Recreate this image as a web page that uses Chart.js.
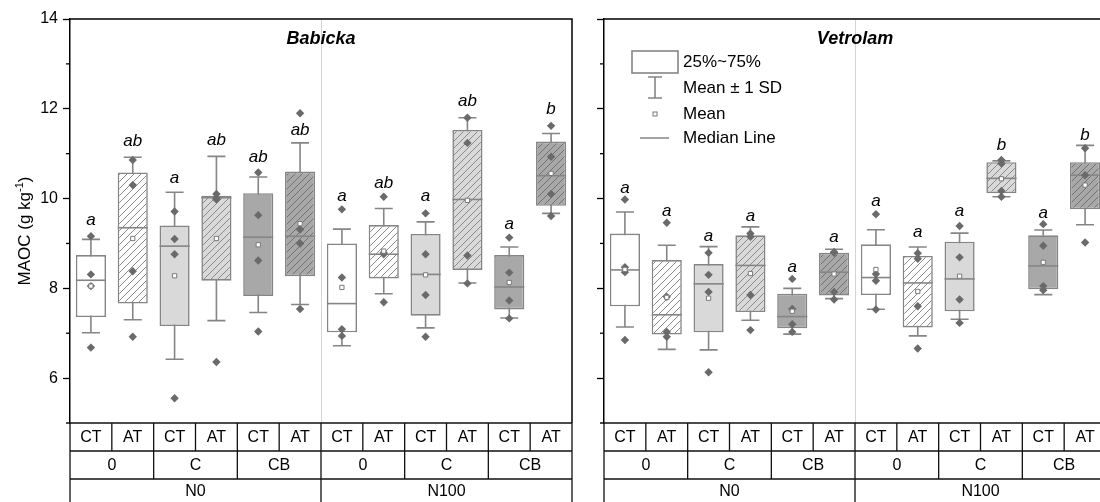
<!DOCTYPE html>
<html><head><meta charset="utf-8">
<script src="https://cdn.jsdelivr.net/npm/chart.js@4.4.1/dist/chart.umd.min.js"></script>
<style>
html,body{margin:0;padding:0;background:#fff;overflow:hidden;width:1100px;height:502px;}
#wrap{position:relative;width:1100px;height:502px;overflow:hidden;background:#fff;}
#c1{position:absolute;left:0;top:0;}
#c2{position:absolute;left:588px;top:0;}
</style></head><body>
<div id="wrap"><canvas id="c1" width="600" height="502"></canvas><canvas id="c2" width="530" height="502"></canvas></div>
<script>
// ---------- data ----------
const treatLabels = ['CT', 'AT'];
const amendLabels = ['0', 'C', 'CB'];
const nLabels = ['N0', 'N100'];
const panelTitles = ['Babicka', 'Vetrolam'];
const yTickValues = [6, 8, 10, 12, 14];
const yMinorValues = [7, 9, 11, 13];
const yRange = [5, 14];
const yAxisTitle = 'MAOC (g kg';
const yAxisTitleSup = '-1';
const legendLabels = ['25%~75%', 'Mean \u00B1 1 SD', 'Mean', 'Median Line'];

// Babicka
const babQ1   = [7.36, 7.66, 7.16, 8.17, 7.83, 8.27, 7.02, 8.22, 7.39, 8.41, 7.53, 9.84];
const babMed  = [8.18, 9.35, 8.94, 10.02, 9.14, 9.16, 7.66, 8.76, 8.31, 9.98, 8.03, 10.51];
const babQ3   = [8.74, 10.58, 9.40, 10.06, 10.12, 10.60, 9.00, 9.41, 9.21, 11.53, 8.74, 11.27];
const babMean = [8.05, 9.11, 8.28, 9.11, 8.97, 9.44, 8.02, 8.83, 8.30, 9.96, 8.13, 10.56];
const babSD   = [1.04, 1.81, 1.86, 1.83, 1.51, 1.80, 1.30, 0.95, 1.18, 1.84, 0.79, 0.89];
const babPts  = [[9.16, 8.31, 8.05, 6.68], [10.86, 10.30, 8.38, 6.92], [9.71, 9.10, 8.76, 5.55], [10.10, 10.00, 9.98, 6.36],
                 [10.58, 9.63, 8.62, 7.04], [11.90, 9.31, 9.00, 7.54], [9.76, 8.24, 7.09, 6.94], [10.04, 8.79, 8.76, 7.69],
                 [9.67, 8.76, 7.85, 6.92], [11.80, 11.24, 8.73, 8.11], [9.13, 8.35, 7.73, 7.33], [11.62, 10.93, 10.10, 9.61]];
const babLetters  = ['a', 'ab', 'a', 'ab', 'ab', 'ab', 'a', 'ab', 'a', 'ab', 'a', 'b'];
const babLetterAt = [9.52, 11.27, 10.46, 11.30, 10.92, 11.53, 10.04, 10.35, 10.04, 12.16, 9.43, 11.99];

// Vetrolam
const vetQ1   = [7.60, 6.97, 7.02, 7.47, 7.11, 7.84, 7.85, 7.13, 7.49, 10.12, 7.98, 9.76];
const vetMed  = [8.41, 7.41, 8.10, 8.51, 7.37, 8.36, 8.24, 8.12, 8.21, 10.45, 8.50, 10.52];
const vetQ3   = [9.22, 8.63, 8.54, 9.18, 7.88, 8.79, 8.98, 8.72, 9.04, 10.81, 9.18, 10.81];
const vetMean = [8.42, 7.80, 7.78, 8.33, 7.49, 8.32, 8.42, 7.93, 8.27, 10.44, 8.58, 10.30];
const vetSD   = [1.28, 1.16, 1.15, 1.04, 0.51, 0.55, 0.885, 0.99, 0.96, 0.40, 0.72, 0.885];
const vetPts  = [[9.98, 8.47, 8.36, 6.85], [9.46, 7.81, 7.03, 6.92], [8.79, 8.30, 7.92, 6.13], [9.22, 9.15, 7.85, 7.07],
                 [8.21, 7.54, 7.20, 7.03], [8.81, 8.79, 7.92, 7.75], [9.65, 8.32, 8.17, 7.53], [8.78, 8.66, 7.60, 6.66],
                 [9.39, 8.69, 7.75, 7.23], [10.86, 10.78, 10.17, 10.04], [9.43, 8.95, 8.05, 7.96], [11.12, 10.52, 9.02]];
const vetLetters  = ['a', 'a', 'a', 'a', 'a', 'a', 'a', 'a', 'a', 'b', 'a', 'b'];
const vetLetterAt = [10.23, 9.71, 9.16, 9.61, 8.48, 9.13, 9.93, 9.24, 9.71, 11.19, 9.68, 11.42];

// ---------- styles ----------
const FONT = '"Liberation Sans", Arial, Helvetica, sans-serif';
Chart.defaults.font.family = FONT;
const BOX_LINE = '#858585';
const DOT = '#6a6a6a';
const amendFill = { '0': '#ffffff', 'C': '#d9d9d9', 'CB': '#a8a8a8' };
const amendHatch = { '0': '#8a8a8a', 'C': '#8a8a8a', 'CB': '#727272' };

// category keys built from label arrays
const catKeys = [], catAmend = [], catTreat = [];
nLabels.forEach(n => amendLabels.forEach(a => treatLabels.forEach(t => {
  catKeys.push(n + '|' + a + '|' + t); catAmend.push(a); catTreat.push(t);
})));

function hatchPattern(ctx, base, line) {
  const s = 7, c = document.createElement('canvas');
  c.width = s; c.height = s;
  const g = c.getContext('2d');
  g.fillStyle = base; g.fillRect(0, 0, s, s);
  g.strokeStyle = line; g.lineWidth = 1;
  g.beginPath();
  g.moveTo(0, s); g.lineTo(s, 0);
  g.moveTo(-1, 1); g.lineTo(1, -1);
  g.moveTo(s - 1, s + 1); g.lineTo(s + 1, s - 1);
  g.stroke();
  return ctx.createPattern(c, 'repeat');
}

const panelPlugin = {
  id: 'panel',
  beforeDatasetsDraw(chart) {
    const p = chart.options.plugins.panel, ctx = chart.ctx, xs = chart.scales.x, ys = chart.scales.y, ca = chart.chartArea;
    ctx.save();
    // N0 / N100 divider
    const w = (xs.right - xs.left) / catKeys.length;
    const mid = xs.left + w * catKeys.length / 2;
    ctx.strokeStyle = '#d4d4d4'; ctx.lineWidth = 1;
    ctx.beginPath(); ctx.moveTo(Math.round(mid) + 0.5, ca.top); ctx.lineTo(Math.round(mid) + 0.5, ca.bottom); ctx.stroke();
    // whiskers (mean ± SD)
    ctx.strokeStyle = BOX_LINE; ctx.lineWidth = 1.6;
    p.mean.forEach((m, i) => {
      const x = xs.getPixelForValue(i);
      const yt = ys.getPixelForValue(m + p.sd[i]), yb = ys.getPixelForValue(m - p.sd[i]);
      ctx.beginPath();
      ctx.moveTo(x, yt); ctx.lineTo(x, yb);
      ctx.moveTo(x - 9, yt); ctx.lineTo(x + 9, yt);
      ctx.moveTo(x - 9, yb); ctx.lineTo(x + 9, yb);
      ctx.stroke();
    });
    ctx.restore();
  },
  afterDatasetDraw(chart, args) {
    if (args.meta.type !== 'bar') return;
    const p = chart.options.plugins.panel, ctx = chart.ctx, ys = chart.scales.y;
    ctx.save();
    ctx.strokeStyle = BOX_LINE; ctx.lineWidth = 1.6;
    args.meta.data.forEach((el, i) => {
      const y = ys.getPixelForValue(p.med[i]);
      ctx.beginPath(); ctx.moveTo(el.x - el.width / 2, y); ctx.lineTo(el.x + el.width / 2, y); ctx.stroke();
    });
    ctx.restore();
  },
  afterDraw(chart) {
    const p = chart.options.plugins.panel, ctx = chart.ctx, xs = chart.scales.x, ys = chart.scales.y, ca = chart.chartArea;
    ctx.save();
    // significance letters
    ctx.fillStyle = '#000'; ctx.font = 'italic 17px ' + FONT;
    ctx.textAlign = 'center'; ctx.textBaseline = 'middle';
    p.letters.forEach((l, i) => ctx.fillText(l, xs.getPixelForValue(i), ys.getPixelForValue(p.letterAt[i])));
    // frame
    ctx.strokeStyle = '#000'; ctx.lineWidth = 1.5;
    ctx.beginPath();
    ctx.moveTo(ca.left, ca.top); ctx.lineTo(ca.right, ca.top); ctx.lineTo(ca.right, ca.bottom);
    ctx.stroke();
    // minor ticks
    ctx.lineWidth = 1.3;
    yMinorValues.forEach(v => {
      const y = ys.getPixelForValue(v);
      ctx.beginPath(); ctx.moveTo(ca.left - 4, y); ctx.lineTo(ca.left, y); ctx.stroke();
    });
    // panel title
    ctx.font = 'bold italic 18px ' + FONT; ctx.textAlign = 'center'; ctx.textBaseline = 'middle';
    ctx.fillText(p.title, (ca.left + ca.right) / 2, ca.top + 20);
    // category table
    const n = catKeys.length, w = (xs.right - xs.left) / n;
    const t0 = ca.bottom, t1 = t0 + 28, t2 = t1 + 28, t3 = chart.height;
    ctx.strokeStyle = '#111'; ctx.lineWidth = 1.3;
    ctx.beginPath();
    ctx.moveTo(xs.left - 4, t0); ctx.lineTo(xs.right, t0);
    ctx.moveTo(xs.left, t1); ctx.lineTo(xs.right, t1);
    ctx.moveTo(xs.left, t2); ctx.lineTo(xs.right, t2);
    for (let i = 0; i <= n; i++) {
      const x = xs.left + i * w;
      ctx.moveTo(x, t0); ctx.lineTo(x, t1);
      if (i % 2 === 0) { ctx.moveTo(x, t1); ctx.lineTo(x, t2); }
      if (i % 6 === 0) { ctx.moveTo(x, t2); ctx.lineTo(x, t3); }
    }
    ctx.stroke();
    ctx.font = '16px ' + FONT; ctx.fillStyle = '#000';
    catTreat.forEach((t, i) => ctx.fillText(t, xs.getPixelForValue(i), (t0 + t1) / 2 + 1));
    for (let i = 0; i < n; i += 2) ctx.fillText(catAmend[i], xs.left + (i + 1) * w, (t1 + t2) / 2 + 1);
    nLabels.forEach((lab, k) => ctx.fillText(lab, xs.left + (k * 6 + 3) * w, (t2 + t3) / 2 + 1));
    // y axis title
    if (p.yTitle) {
      ctx.save();
      ctx.translate(24, (ca.top + ca.bottom) / 2 + 10);
      ctx.rotate(-Math.PI / 2);
      ctx.font = '17px ' + FONT;
      const w1 = ctx.measureText(yAxisTitle).width;
      ctx.font = '11px ' + FONT;
      const w2 = ctx.measureText(yAxisTitleSup).width;
      ctx.font = '17px ' + FONT;
      const w3 = ctx.measureText(')').width;
      let x0 = -(w1 + w2 + w3) / 2;
      ctx.textAlign = 'left'; ctx.textBaseline = 'alphabetic';
      ctx.fillText(yAxisTitle, x0, 6);
      ctx.font = '11px ' + FONT; ctx.fillText(yAxisTitleSup, x0 + w1, -1);
      ctx.font = '17px ' + FONT; ctx.fillText(')', x0 + w1 + w2, 6);
      ctx.restore();
    }
    // legend
    if (p.legend) {
      const lx = ca.left + 28;
      ctx.strokeStyle = BOX_LINE; ctx.lineWidth = 1.6; ctx.fillStyle = '#fff';
      ctx.fillRect(lx, 51, 46, 22); ctx.strokeRect(lx, 51, 46, 22);
      const cx = lx + 23;
      ctx.beginPath();
      ctx.moveTo(cx, 77); ctx.lineTo(cx, 98);
      ctx.moveTo(cx - 7, 77); ctx.lineTo(cx + 7, 77);
      ctx.moveTo(cx - 7, 98); ctx.lineTo(cx + 7, 98);
      ctx.moveTo(cx - 15, 138); ctx.lineTo(cx + 14, 138);
      ctx.stroke();
      ctx.lineWidth = 1; ctx.strokeStyle = '#7a7a7a';
      ctx.strokeRect(cx - 2, 112, 4, 4);
      ctx.fillStyle = '#000'; ctx.font = '17px ' + FONT; ctx.textAlign = 'left'; ctx.textBaseline = 'middle';
      const ly = [62, 88, 114, 138];
      legendLabels.forEach((t, k) => ctx.fillText(t, lx + 51, ly[k]));
    }
    ctx.restore();
  }
};

function makeChart(id, panel, yAxisWidth, rightPad, showLabels) {
  const canvas = document.getElementById(id);
  const ctx = canvas.getContext('2d');
  const fills = catKeys.map((k, i) => catTreat[i] === 'AT'
    ? hatchPattern(ctx, amendFill[catAmend[i]], amendHatch[catAmend[i]])
    : amendFill[catAmend[i]]);
  const pts = [];
  panel.pts.forEach((arr, i) => arr.forEach(v => pts.push({ x: catKeys[i], y: v })));
  return new Chart(ctx, {
    type: 'bar',
    data: {
      labels: catKeys,
      datasets: [
        { type: 'bar', data: panel.q1.map((v, i) => [v, panel.q3[i]]), backgroundColor: fills,
          borderColor: BOX_LINE, borderWidth: 1.6, borderSkipped: false,
          barPercentage: 0.72, categoryPercentage: 1, grouped: false, order: 3 },
        { type: 'line', data: pts, showLine: false, pointStyle: 'rectRot', pointRadius: 4.2,
          pointBackgroundColor: DOT, pointBorderColor: DOT, pointBorderWidth: 0, order: 2 },
        { type: 'line', data: panel.mean, showLine: false, pointStyle: 'rect', pointRadius: 3,
          pointBackgroundColor: '#fff', pointBorderColor: '#7a7a7a', pointBorderWidth: 1, order: 1 }
      ]
    },
    options: {
      responsive: false, animation: false, devicePixelRatio: 1,
      layout: { padding: { left: 0, right: rightPad, top: 19, bottom: 0 } },
      plugins: { legend: { display: false }, tooltip: { enabled: false }, panel: panel },
      scales: {
        x: { type: 'category', offset: true, grid: { display: false }, ticks: { display: false },
             border: { display: false }, afterFit: s => { s.height = 79; } },
        y: { min: yRange[0], max: yRange[1],
             afterBuildTicks: s => { s.ticks = yTickValues.map(v => ({ value: v })); },
             afterFit: s => { s.width = yAxisWidth; },
             ticks: { display: showLabels, color: '#000', font: { size: 16 }, padding: 5 },
             grid: { drawOnChartArea: false, drawTicks: true, tickLength: 7, tickColor: '#000', tickWidth: 1.3 },
             border: { display: true, color: '#000', width: 1.5 } }
      }
    },
    plugins: [panelPlugin]
  });
}

makeChart('c1', { title: panelTitles[0], q1: babQ1, med: babMed, q3: babQ3, mean: babMean, sd: babSD, pts: babPts,
  letters: babLetters, letterAt: babLetterAt, yTitle: true, legend: false }, 70, 28, true);
makeChart('c2', { title: panelTitles[1], q1: vetQ1, med: vetMed, q3: vetQ3, mean: vetMean, sd: vetSD, pts: vetPts,
  letters: vetLetters, letterAt: vetLetterAt, yTitle: false, legend: true }, 16, 12, false);
</script>
</body></html>
